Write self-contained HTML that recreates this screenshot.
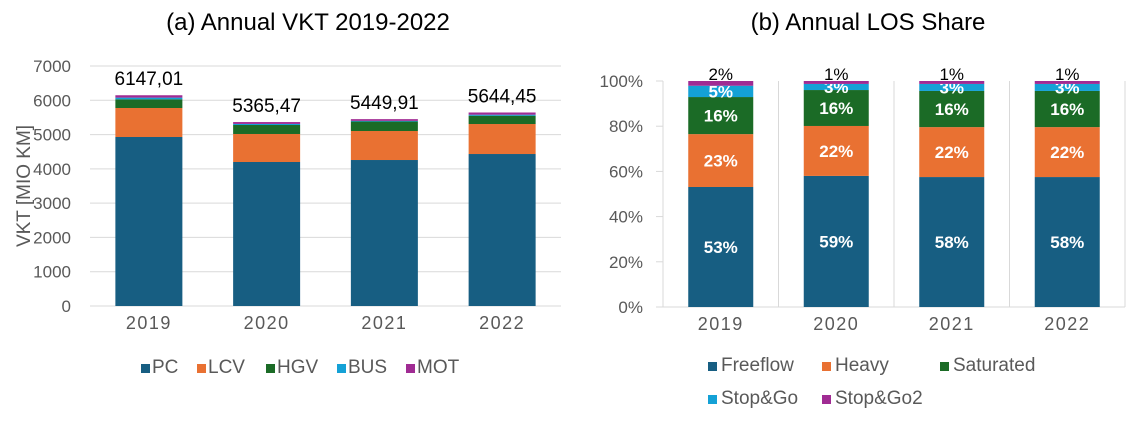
<!DOCTYPE html>
<html><head><meta charset="utf-8"><style>
body{margin:0;background:#fff;font-family:"Liberation Sans",Arial,sans-serif;}
svg text{font-family:"Liberation Sans",Arial,sans-serif;}
</style></head><body>
<svg id="s" width="1133" height="419" xmlns="http://www.w3.org/2000/svg">
<text x="308" y="30" font-size="24" text-anchor="middle" fill="#000">(a) Annual VKT 2019-2022</text>
<text x="868" y="30" font-size="24" text-anchor="middle" fill="#000">(b) Annual LOS Share</text>
<text transform="translate(30,186) rotate(-90)" font-size="19" text-anchor="middle" fill="#595959">VKT [MIO KM]</text>
<g id="ga"></g><g id="gb"></g>
</svg>
<script>
const years=["2019","2020","2021","2022"];
const vktSeries=["PC","LCV","HGV","BUS","MOT"];
const pc=[4929,4200,4258,4433];
const lcv=[846,817,846,875];
const hgv=[254,262,276,242];
const bus=[48,31,20,30];
const mot=[70,55,50,64];
const totals=["6147,01","5365,47","5449,91","5644,45"];
const vktTicks=[0,1000,2000,3000,4000,5000,6000,7000];
const losSeries=["Freeflow","Heavy","Saturated","Stop&Go","Stop&Go2"];
const freeflow=[53.1,58.0,57.5,57.5];
const heavy=[23.4,22.1,22.1,22.1];
const saturated=[16.4,15.9,16.0,16.0];
const stopgo=[5.0,2.7,3.1,3.1];
const stopgo2=[2.1,1.3,1.3,1.3];
const losLabels=[["53%","23%","16%","5%","2%"],["59%","22%","16%","3%","1%"],["58%","22%","16%","3%","1%"],["58%","22%","16%","3%","1%"]];
const pctTicks=[0,20,40,60,80,100];
const colors=["#175e82","#e97132","#1b6b26","#14a1d6","#a02b93"];
const NS="http://www.w3.org/2000/svg";
function mk(p,t,a){const e=document.createElementNS(NS,t);for(const k in a)e.setAttribute(k,a[k]);p.appendChild(e);return e;}
// chart a
const ga=document.getElementById('ga');
const ax0=90,ax1=561,ay0=306,ay1=66;
const ya=v=>ay0-(v/7000)*(ay0-ay1);
const cwA=(ax1-ax0)/years.length;
vktTicks.forEach(t=>{
 const l=mk(ga,'line',{x1:ax0,x2:ax1,y1:ya(t),y2:ya(t),stroke:'#d9d9d9','stroke-width':1});
 
 
 const tx=mk(ga,'text',{x:71,y:ya(t)+6,'font-size':17,'text-anchor':'end',fill:'#595959'});tx.textContent=t;
 
 
});
const vktData=[pc,lcv,hgv,bus,mot];
years.forEach((y,i)=>{
 const cx=ax0+cwA*(i+0.5),bw=67;let acc=0;
 vktData.forEach((s,j)=>{
  const r=mk(ga,'rect',{x:cx-bw/2,y:ya(acc+s[i]),width:bw,height:ya(acc)-ya(acc+s[i]),fill:colors[j]});
  
  
  acc+=s[i];
 });
 const t=mk(ga,'text',{x:cx,y:ya(acc)-10,'font-size':19,'text-anchor':'middle',fill:'#000'});t.textContent=totals[i];
 
 
 const xl=mk(ga,'text',{x:cx,y:329,'font-size':18,'text-anchor':'middle',fill:'#595959','letter-spacing':'1.5'});xl.textContent=y;
 
 
});
const legA=[141,197,266,337,406];
vktSeries.forEach((n,j)=>{
 const r=mk(ga,'rect',{x:legA[j],y:364,width:9,height:9,fill:colors[j]});
 
 
 const t=mk(ga,'text',{x:legA[j]+11,y:373,'font-size':19,fill:'#595959'});t.textContent=n;
 
 
});
// chart b
const gb=document.getElementById('gb');
const bx0=663,bx1=1125,by0=307,by1=81;
const yb=v=>by0-(v/100)*(by0-by1);
const cwB=(bx1-bx0)/years.length;
mk(gb,'line',{x1:bx0,x2:bx1,y1:by0,y2:by0,stroke:'#d9d9d9'});
for(let k=0;k<=years.length;k++){
 const l=mk(gb,'line',{x1:bx0+cwB*k,x2:bx0+cwB*k,y1:by1,y2:by0,stroke:'#d9d9d9'});
 
 
}
pctTicks.forEach(t=>{
 const tk=mk(gb,'line',{x1:656,x2:bx0,y1:yb(t),y2:yb(t),stroke:'#d9d9d9'});
 
 
 const tx=mk(gb,'text',{x:643,y:yb(t)+6,'font-size':17,'text-anchor':'end',fill:'#595959'});tx.textContent=t+'%';
 
 
});
const losData=[freeflow,heavy,saturated,stopgo,stopgo2];
years.forEach((y,i)=>{
 const cx=bx0+cwB*(i+0.5),bw=65;let acc=0;
 losData.forEach((s,j)=>{
  const top=yb(acc+s[i]),bot=yb(acc);
  const r=mk(gb,'rect',{x:cx-bw/2,y:top,width:bw,height:bot-top,fill:colors[j]});
  
  
  const ly=j===4?top-1:(top+bot)/2+6;
  const t=mk(gb,'text',{x:cx,y:ly,'font-size':17,'font-weight':j===4?'normal':'bold','text-anchor':'middle',fill:j===4?'#000':'#fff'});t.textContent=losLabels[i][j];
  
  
  acc+=s[i];
 });
 const xl=mk(gb,'text',{x:cx,y:330,'font-size':18,'text-anchor':'middle',fill:'#595959','letter-spacing':'1.5'});xl.textContent=y;
 
 
});
const legB=[[708,362],[822,362],[940,362],[708,395],[822,395]];
losSeries.forEach((n,j)=>{
 const r=mk(gb,'rect',{x:legB[j][0],y:legB[j][1],width:9,height:9,fill:colors[j]});
 
 
 const t=mk(gb,'text',{x:legB[j][0]+13,y:legB[j][1]+9,'font-size':19,fill:'#595959'});t.textContent=n;
 
 
});
</script>
</body></html>
